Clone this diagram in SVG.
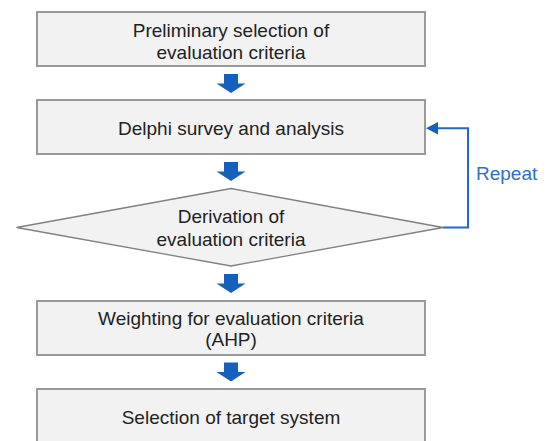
<svg xmlns="http://www.w3.org/2000/svg" width="547" height="441" viewBox="0 0 547 441">
<style>
.box{fill:#f2f2f2;stroke:#9a9a9a;stroke-width:2}
.dia{fill:#f2f2f2;stroke:#808080;stroke-width:1.3}
.t{font-family:"Liberation Sans",Arial,sans-serif;font-size:19px;fill:#222;text-anchor:middle}
.arr{fill:#1560bd}
.loop{fill:none;stroke:#2468c8;stroke-width:2}
.rep{font-family:"Liberation Sans",Arial,sans-serif;font-size:19px;fill:#2e6fc9}
</style>
<defs>
<path id="down" d="M-7,0 H7 V9.5 H14.5 L0,19 L-14.5,9.5 H-7 Z"/>
</defs>
<rect width="547" height="441" fill="#fff"/>
<g id="n1">
<rect class="box" x="37" y="12" width="388" height="54"/>
<text class="t" x="231" y="37">Preliminary selection of</text>
<text class="t" x="231" y="59">evaluation criteria</text>
</g>
<g id="n2">
<rect class="box" x="37" y="100" width="388" height="54"/>
<text class="t" x="231" y="135">Delphi survey and analysis</text>
</g>
<g id="n3">
<polygon class="dia" points="231,188.5 443,227.5 231,266 16.5,227.5"/>
<text class="t" x="231" y="223">Derivation of</text>
<text class="t" x="231" y="245.5">evaluation criteria</text>
</g>
<g id="n4">
<rect class="box" x="37" y="301" width="388" height="54"/>
<text class="t" x="231" y="325">Weighting for evaluation criteria</text>
<text class="t" x="231" y="346">(AHP)</text>
</g>
<g id="n5">
<rect class="box" x="37" y="389" width="388" height="54"/>
<text class="t" x="231" y="424">Selection of target system</text>
</g>
<g id="connectors">
<use href="#down" class="arr" x="231" y="74"/>
<use href="#down" class="arr" x="231" y="162"/>
<use href="#down" class="arr" x="231" y="274"/>
<use href="#down" class="arr" x="231" y="362.5"/>
<polyline class="loop" points="443,227.5 468,227.5 468,128.3 436,128.3"/>
<polygon fill="#1560bd" points="426,128.3 438,122 438,134.6"/>
<text class="rep" x="476" y="180">Repeat</text>
</g>
</svg>
